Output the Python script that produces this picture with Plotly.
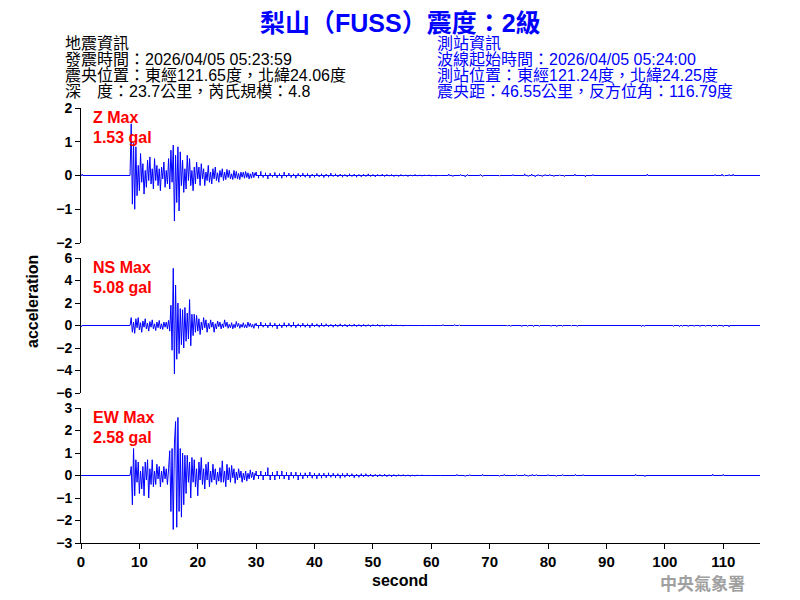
import plotly.graph_objects as go
from plotly.subplots import make_subplots

# ─────────────────────────────────────────────
# STATION / EVENT TEXT
# ─────────────────────────────────────────────

TITLE = "梨山（FUSS）震度：2級"
QUAKE_INFO = [
    "地震資訊",
    "發震時間：2026/04/05 05:23:59",
    "震央位置：東經121.65度，北緯24.06度",
    "深　度：23.7公里，芮氏規模：4.8",
]
STATION_INFO = [
    "測站資訊",
    "波線起始時間：2026/04/05 05:24:00",
    "測站位置：東經121.24度，北緯24.25度",
    "震央距：46.55公里，反方位角：116.79度",
]
COMPONENTS = ["Z", "NS", "EW"]
MAX_GAL = ["1.53", "5.08", "2.58"]
Y_RANGES = [2, 6, 3]
Y_DTICK = [1, 2, 1]

# ─────────────────────────────────────────────
# WAVEFORM VALUES (gal)
# main part: every 0.2 s from 8.4 s (joined line)
# coda part: every 0.4 s after the main part (spikes)
# blips: isolated small wiggles in the quiet tail
# ─────────────────────────────────────────────

T_MAIN = 8.4
DT_MAIN = 0.2
DT_CODA = 0.4
T_END = 116.3

Z_MAIN = [
    0.0, 1.53, -0.85, 0.95, -1.0, 0.85, -0.6, 0.3, -0.45, 0.65,
    -0.2, 0.35, -0.55, 0.15, -0.35, 0.45, -0.15, 0.55, -0.25, 0.2,
    -0.4, 0.5, -0.15, 0.3, -0.3, 0.2, -0.45, 0.25, -0.1, 0.4,
    -0.35, 0.15, -0.25, 0.5, -0.4, 0.75, -0.2, 0.9, -1.35, 0.6,
    -0.8, 0.85, -1.05, 0.7, -0.3, 0.45, -0.5, 0.2, -0.4, 0.6,
    -0.15, 0.5, -0.3, 0.15, -0.45, 0.25, -0.25, 0.4, -0.1, 0.25,
    -0.3, 0.35, -0.1, 0.2, -0.3, 0.1, -0.15, 0.3, -0.2, 0.1,
    -0.25, 0.2, -0.1, 0.25, -0.15, 0.08, -0.2, 0.15, -0.05, 0.2,
    -0.15, 0.1, -0.12, 0.18, -0.06, 0.15, -0.1, 0.05, -0.12, 0.15,
    -0.08, 0.12, -0.1, 0.06, -0.12, 0.1, -0.05, 0.1, -0.08, 0.12,
    -0.06, 0.08, -0.1, 0.05, -0.08, 0.1, -0.06, 0.08,
]
Z_CODA = [
    0.1, -0.08, 0.12, -0.06, 0.08, -0.1, 0.07, -0.05, 0.09, -0.07,
    0.06, -0.08, 0.1, -0.05, 0.07, -0.06, 0.05, -0.08, 0.06, -0.04,
    0.07, -0.05, 0.06, -0.07, 0.04, -0.05, 0.06, -0.04, 0.05, -0.06,
    0.04, -0.05, 0.07, -0.03, 0.05, -0.04, 0.04, -0.05, 0.03, -0.04,
    0.05, -0.03, 0.04, -0.05, 0.03, -0.04, 0.04, -0.03, 0.05, -0.03,
    0.03, -0.04, 0.03, -0.02, 0.04, -0.03, 0.03, -0.02, 0.03, -0.03,
    0.02, -0.03, 0.03, -0.02, 0.02, -0.03, 0.02, -0.02, 0.03, -0.02,
    0.02, -0.02, 0.02, -0.01, 0.02, -0.02, 0.01, -0.02, 0.01, -0.01,
]
Z_BLIP_T = [0.2, 63.0, 63.7, 65.0, 65.8, 66.2, 68.4, 68.8, 69.6, 71.7,
            74.0, 76.0, 76.6, 77.2, 77.8, 78.3, 79.0, 79.5, 80.3, 81.0,
            82.0, 82.8, 84.6, 86.4, 87.7, 97.0, 108.6, 109.8, 110.2, 111.0,
            111.7, 112.4]
Z_BLIP_A = [0.04, 0.04, -0.03, 0.03, -0.04, 0.03, 0.03, -0.03, 0.02, -0.02,
            0.03, 0.05, -0.03, 0.04, -0.04, 0.03, -0.03, 0.03, 0.03, -0.03,
            0.02, -0.03, 0.04, -0.04, 0.03, 0.04, 0.03, 0.04, -0.02, 0.03,
            0.04, -0.02]

NS_MAIN = [
    0.0, 0.7, -0.6, 0.3, -0.7, 0.6, -0.2, 0.7, -0.4, 0.25,
    -0.6, 0.4, -0.15, 0.6, -0.3, 0.2, -0.5, 0.35, -0.15, 0.5,
    -0.3, 0.15, -0.45, 0.3, -0.2, 0.45, -0.3, 0.15, -0.35, 0.3,
    -0.15, 0.3, -0.3, 0.45, -0.5, 1.8, -2.2, 5.08, -4.3, 3.6,
    -3.0, 2.0, -2.5, 1.5, -1.7, 1.4, -2.0, 1.6, -1.4, 1.1,
    -1.2, 2.3, -1.8, 1.0, -0.9, 1.0, -0.6, 0.9, -0.5, 0.6,
    -0.8, 0.3, -0.4, 0.7, -0.2, 0.5, -0.6, 0.2, -0.3, 0.5,
    -0.15, 0.3, -0.6, 0.15, -0.3, 0.4, -0.1, 0.3, -0.3, 0.15,
    -0.2, 0.5, -0.1, 0.3, -0.25, 0.1, -0.2, 0.25, -0.3, 0.1,
    -0.2, 0.35, -0.1, 0.2, -0.25, 0.1, -0.15, 0.25, -0.2, 0.08,
    -0.2, 0.3, -0.1, 0.2, -0.15, 0.1, -0.25, 0.15,
]
NS_CODA = [
    0.2, -0.25, 0.3, -0.15, 0.2, -0.2, 0.25, -0.15, 0.2, -0.3,
    0.15, -0.2, 0.25, -0.15, 0.2, -0.15, 0.3, -0.2, 0.15, -0.15,
    0.2, -0.15, 0.15, -0.2, 0.2, -0.1, 0.15, -0.15, 0.2, -0.1,
    0.15, -0.12, 0.1, -0.15, 0.12, -0.1, 0.15, -0.1, 0.1, -0.12,
    0.1, -0.08, 0.12, -0.1, 0.08, -0.1, 0.1, -0.08, 0.08, -0.1,
    0.08, -0.06, 0.1, -0.08, 0.06, -0.08, 0.06, -0.06, 0.08, -0.05,
    0.06, -0.05, 0.05, -0.06, 0.05, -0.04, 0.05, -0.05, 0.04, -0.05,
    0.04, -0.03, 0.04, -0.04, 0.03, -0.03, 0.03, -0.02, 0.02, -0.02,
]
NS_BLIP_T = [0.1, 62.0, 62.8, 64.0, 64.8, 66.5, 73.0, 73.6, 75.5, 76.5,
             77.5, 78.5, 79.5, 80.5, 81.5, 82.5, 84.0, 85.0, 96.0, 96.5,
             101.5, 102.5, 103.0, 104.0, 105.0, 106.0, 107.0, 108.0, 109.0,
             110.0, 111.0]
NS_BLIP_A = [-0.1, 0.08, 0.06, 0.08, 0.06, 0.05, -0.06, -0.08, -0.1, -0.08,
             -0.1, -0.08, -0.06, -0.08, -0.1, -0.08, -0.06, -0.08, -0.1, -0.08,
             -0.08, -0.1, -0.08, -0.1, -0.08, -0.1, -0.08, -0.1, -0.08,
             -0.1, -0.12]

EW_MAIN = [
    0.0, 0.4, -1.3, 1.2, -0.9, 0.7, -0.3, 0.6, -0.8, 0.2,
    -0.6, 0.4, -0.9, 0.6, -0.2, 0.7, -1.0, 0.3, -0.4, 0.7,
    -0.5, 0.2, -0.4, 0.5, -0.15, 0.4, -0.5, 0.2, -0.3, 0.4,
    -0.15, 0.3, -0.4, 0.3, 1.1, -1.6, 1.2, -2.4, 1.4, 2.4,
    -2.3, 2.58, -1.6, 1.2, -1.85, 1.0, -1.3, 0.9, -0.8, 0.9,
    -0.3, 0.6, -1.0, 0.8, -0.3, 0.7, -0.5, 0.3, -0.9, 0.6,
    -0.2, 0.8, -0.4, 0.3, -0.6, 0.5, -0.2, 0.6, -0.5, 0.2,
    -0.3, 0.5, -0.2, 0.3, -0.4, 0.15, -0.25, 0.35, -0.3, 0.65,
    -0.3, 0.2, -0.5, 0.5, -0.2, 0.35, -0.3, 0.45, -0.1, 0.3,
    -0.35, 0.15, -0.2, 0.3, -0.1, 0.2, -0.3, 0.1, -0.2, 0.2,
    -0.25, 0.1, -0.15, 0.25, -0.1, 0.15, -0.2, 0.1,
]
EW_CODA = [
    0.2, -0.15, 0.2, -0.2, 0.15, 0.35, -0.2, 0.15, -0.2, 0.2,
    -0.15, 0.2, -0.15, 0.15, -0.2, 0.15, -0.12, 0.15, -0.2, 0.12,
    -0.15, 0.12, -0.1, 0.15, -0.12, 0.1, -0.15, 0.1, -0.12, 0.1,
    -0.1, 0.12, -0.08, 0.1, -0.1, 0.08, -0.12, 0.1, -0.08, 0.1,
    -0.06, 0.08, -0.1, 0.06, -0.08, 0.08, -0.06, 0.08, -0.05, 0.06,
    -0.06, 0.05, -0.06, 0.05, -0.04, 0.06, -0.05, 0.04, -0.05, 0.04,
    -0.04, 0.04, -0.03, 0.04, -0.03, 0.03, -0.04, 0.03, -0.03, 0.03,
    -0.02, 0.03, -0.02, 0.02, -0.02, 0.02, -0.02, 0.01, -0.02, 0.01,
]
EW_BLIP_T = [64.4, 65.8, 66.6, 68.8, 71.7, 72.5, 74.6, 76.0, 76.6, 77.3,
             78.0, 80.0, 81.4, 82.5, 84.7, 86.0, 95.0, 96.6, 108.2, 110.0]
EW_BLIP_A = [0.05, -0.04, 0.04, 0.05, -0.04, 0.05, 0.04, 0.05, -0.04, 0.05,
             0.04, 0.04, -0.04, 0.04, 0.05, 0.04, 0.05, -0.05, 0.06, 0.05]

WAVES = [
    (Z_MAIN, Z_CODA, Z_BLIP_T, Z_BLIP_A),
    (NS_MAIN, NS_CODA, NS_BLIP_T, NS_BLIP_A),
    (EW_MAIN, EW_CODA, EW_BLIP_T, EW_BLIP_A),
]

# ─────────────────────────────────────────────
# LAYOUT CONSTANTS
# page pixels of the 800x600 reference; the html body
# adds an 8 px margin, so the figure itself is 792x592
# ─────────────────────────────────────────────

OFF = 8
W, H = 800 - OFF, 600 - OFF
L, R, T, B = 81 - OFF, 40, 108 - OFF, 57
PLOT_W = W - L - R
PLOT_H = H - T - B

BLUE = "#0000FF"
RED = "#FF0000"
LATIN = "Liberation Sans, Arial, Noto Sans CJK TC"
CJK = "Liberation Sans, Noto Sans CJK TC"


def px(x):
    return (x - OFF - L) / PLOT_W


def py(y):
    return (H - B - (y - OFF)) / PLOT_H


def build_wave(main, coda, blip_t, blip_a):
    """Put the typed values on a time axis, in time order."""
    xs, ys = [0.0], [0.0]
    blips = list(zip(blip_t, blip_a))
    for t, a in blips:
        if t < T_MAIN:
            xs += [t - 0.1, t, t + 0.1]
            ys += [0.0, a, 0.0]
    # main part: joined samples
    for i, v in enumerate(main):
        xs.append(T_MAIN + DT_MAIN * i)
        ys.append(v)
    # coda: spikes from the zero line
    t_coda = T_MAIN + DT_MAIN * len(main)
    for i, v in enumerate(coda):
        t = t_coda + DT_CODA * i
        xs += [t, t, t]
        ys += [0.0, v, 0.0]
    for t, a in blips:
        if t >= T_MAIN:
            xs += [t - 0.1, t, t + 0.1]
            ys += [0.0, a, 0.0]
    xs.append(T_END)
    ys.append(0.0)
    return xs, ys


fig = make_subplots(rows=3, cols=1, vertical_spacing=15 / PLOT_H)

for i, wave in enumerate(WAVES):
    xs, ys = build_wave(*wave)
    fig.add_trace(go.Scatter(
        x=xs, y=ys, mode="lines",
        line=dict(color=BLUE, width=1),
        showlegend=False, hoverinfo="skip"
    ), row=i + 1, col=1)

    fig.update_yaxes(
        range=[-Y_RANGES[i], Y_RANGES[i]], dtick=Y_DTICK[i],
        showgrid=False, zeroline=False,
        showline=True, linecolor="black", linewidth=1,
        ticks="outside", ticklen=5, tickcolor="black",
        tickfont=dict(family=LATIN, size=14, color="black", weight="bold"),
        row=i + 1, col=1
    )
    fig.update_xaxes(
        range=[0, T_END], dtick=10,
        showgrid=False, zeroline=False,
        showline=(i == 2), linecolor="black", linewidth=1,
        ticks="outside" if i == 2 else "", ticklen=5, tickcolor="black",
        showticklabels=(i == 2),
        tickfont=dict(family=LATIN, size=15, color="black", weight="bold"),
        row=i + 1, col=1
    )

annotations = []

# title
annotations.append(dict(
    text=TITLE, x=px(400), y=py(23), xref="paper", yref="paper",
    xanchor="center", yanchor="middle", showarrow=False,
    font=dict(family=CJK, size=25, color=BLUE, weight="bold")
))

# info blocks
for k, line in enumerate(QUAKE_INFO):
    annotations.append(dict(
        text=line, x=px(63), y=py(43 + 16 * k), xref="paper", yref="paper",
        xanchor="left", yanchor="middle", showarrow=False,
        font=dict(family=CJK, size=16, color="black")
    ))
for k, line in enumerate(STATION_INFO):
    annotations.append(dict(
        text=line, x=px(435), y=py(43 + 16 * k), xref="paper", yref="paper",
        xanchor="left", yanchor="middle", showarrow=False,
        font=dict(family=CJK, size=16, color=BLUE)
    ))

# red max labels
for i, (comp, gal) in enumerate(zip(COMPONENTS, MAX_GAL)):
    top = 117 + 150 * i
    annotations.append(dict(
        text=f"{comp} Max", x=px(91), y=py(top), xref="paper", yref="paper",
        xanchor="left", yanchor="middle", showarrow=False,
        font=dict(family=LATIN, size=16, color=RED, weight="bold")
    ))
    annotations.append(dict(
        text=f"{gal} gal", x=px(91), y=py(top + 20), xref="paper", yref="paper",
        xanchor="left", yanchor="middle", showarrow=False,
        font=dict(family=LATIN, size=16, color=RED, weight="bold")
    ))

# axis titles and watermark
annotations.append(dict(
    text="acceleration", x=px(32), y=py(302), xref="paper", yref="paper",
    xanchor="center", yanchor="middle", showarrow=False, textangle=-90,
    font=dict(family=LATIN, size=16, color="black", weight="bold")
))
annotations.append(dict(
    text="second", x=px(400), y=py(580), xref="paper", yref="paper",
    xanchor="center", yanchor="middle", showarrow=False,
    font=dict(family=LATIN, size=16, color="black", weight="bold")
))
annotations.append(dict(
    text="中央氣象署", x=px(702), y=py(582), xref="paper", yref="paper",
    xanchor="center", yanchor="middle", showarrow=False,
    font=dict(family="Noto Sans CJK TC", size=17, color="#A0A0A0", weight="bold")
))

fig.update_layout(
    width=W, height=H,
    margin=dict(l=L, r=R, t=T, b=B),
    plot_bgcolor="white",
    paper_bgcolor="white",
    showlegend=False,
    annotations=annotations
)

fig.write_html("out.html")
